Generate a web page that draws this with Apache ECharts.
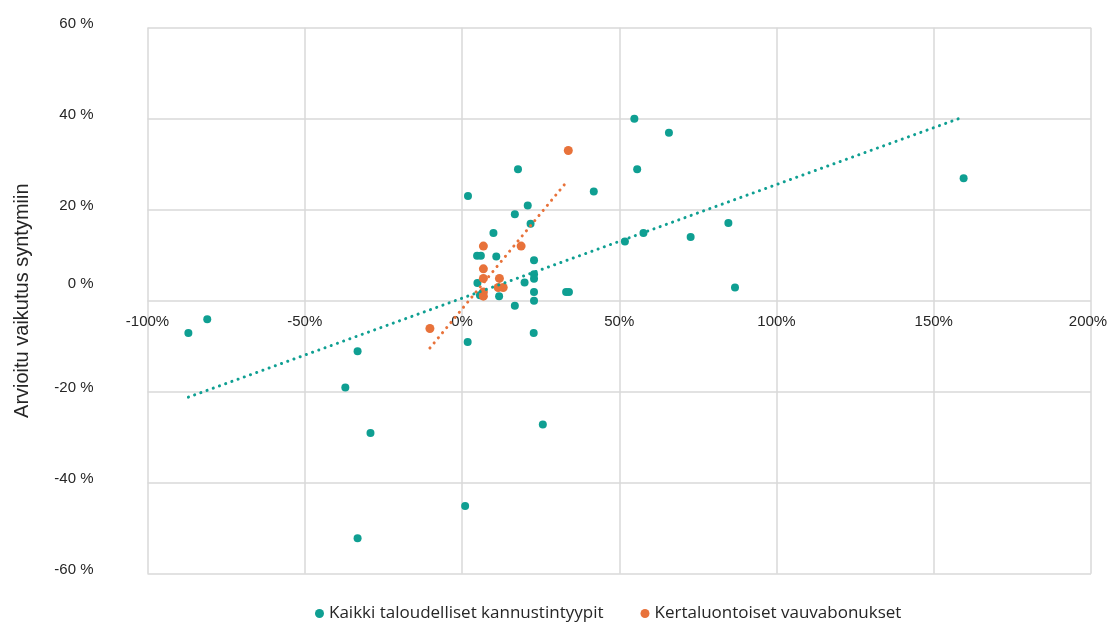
<!DOCTYPE html>
<html>
<head>
<meta charset="utf-8">
<script src="https://cdn.jsdelivr.net/npm/echarts@6/dist/echarts.min.js"></script>
<style>
  html, body { margin: 0; padding: 0; background: #fff; }
  #chart { width: 1108px; height: 622px; }
</style>
</head>
<body>
<div id="chart"></div>
<script>
// Series names
const seriesNames = ['Kaikki taloudelliset kannustintyypit', 'Kertaluontoiset vauvabonukset'];

// Kaikki taloudelliset kannustintyypit: [vaikutus (%), arvioitu vaikutus syntymiin (%)]
const allIncentives = [
  [-87.0, -7.1], [-81.0, -4.1], [-33.2, -11.1], [-37.1, -19.1], [-29.1, -29.1],
  [-33.2, -52.2], [1.8, -9.1], [22.8, -7.1], [25.7, -27.2], [1.0, -45.1],
  [54.8, 40.0], [65.8, 36.9], [17.8, 28.9], [55.7, 28.9], [41.9, 24.0],
  [1.9, 23.0], [20.9, 20.9], [16.8, 19.0], [21.8, 16.9], [84.7, 17.1],
  [57.7, 14.9], [72.7, 14.0], [51.8, 13.0], [10.0, 14.9], [4.8, 9.9],
  [6.0, 9.9], [10.9, 9.7], [22.9, 8.9], [22.9, 5.8], [22.9, 4.8],
  [19.9, 4.0], [4.9, 3.9], [22.9, 1.9], [33.1, 1.9], [34.0, 1.9],
  [22.9, 0.0], [16.8, -1.1], [86.8, 2.9], [159.5, 26.9], [5.7, 1.2],
  [11.8, 1.0]
];

// Kertaluontoiset vauvabonukset
const babyBonuses = [
  [-10.2, -6.1], [33.8, 33.0], [18.8, 12.0], [6.8, 12.0], [6.8, 7.0],
  [6.8, 4.9], [11.9, 4.9], [11.5, 2.9], [13.1, 2.9], [6.8, 1.9], [6.8, 1.0]
];

// Linear trend lines (end points)
const trendAll = [[-87.0, -21.2], [159.5, 40.4]];
const trendBonus = [[-10.2, -10.4], [33.5, 26.3]];

// Axis ranges and steps
const xRange = { min: -100, max: 200, step: 50 };
const yRange = { min: -60, max: 60, step: 20 };

const TEAL = '#0f9f92';
const ORANGE = '#e8723a';
const GRID = '#d9d9d9';
const TEXT = '#262626';
const FONT = '"Liberation Sans", Arial, sans-serif';

// Plot box
const gridBox = { left: 147.5, right: 17, top: 27.7, bottom: 48.3 };
const chartH = 622;
const plotH = chartH - gridBox.top - gridBox.bottom;
// Horizontal axis sits on y = 0: shift it up from the bottom edge
const xAxisOffset = -plotH * (0 - yRange.min) / (yRange.max - yRange.min);

const chart = echarts.init(document.getElementById('chart'), null, { renderer: 'canvas' });

chart.setOption({
  animation: false,
  backgroundColor: '#ffffff',
  grid: Object.assign({ containLabel: false, outerBoundsMode: 'none' }, gridBox),
  legend: {
    data: seriesNames,
    left: 310,
    top: 600,
    itemWidth: 9,
    itemHeight: 9,
    itemGap: 37,
    icon: 'circle',
    textStyle: { fontFamily: '"Open Sans", sans-serif', fontSize: 17, color: TEXT }
  },
  xAxis: {
    type: 'value',
    position: 'bottom',
    offset: xAxisOffset,
    min: xRange.min, max: xRange.max, interval: xRange.step,
    axisLine: { show: false, onZero: false },
    axisTick: { show: false },
    axisLabel: {
      margin: 14,
      fontFamily: FONT, fontSize: 15, color: TEXT,
      // last label nudged inward so it stays inside the canvas
      formatter: v => (v === xRange.max ? '{e|' + v + '%}' : v + '%'),
      rich: {
        e: { fontFamily: FONT, fontSize: 15, color: TEXT, padding: [0, 6, 0, 0] }
      }
    },
    splitLine: { show: true, lineStyle: { color: GRID, width: 1.5 } }
  },
  yAxis: {
    type: 'value',
    min: yRange.min, max: yRange.max, interval: yRange.step,
    name: 'Arvioitu vaikutus syntymiin',
    nameLocation: 'middle',
    nameGap: 115,
    nameRotate: 90,
    nameTextStyle: { fontFamily: FONT, fontSize: 20, color: TEXT },
    axisLine: { show: false, onZero: false },
    axisTick: { show: false },
    axisLabel: {
      margin: 54,
      align: 'right',
      fontFamily: FONT, fontSize: 15, color: TEXT,
      formatter: v => (v === 0 ? '{z|0 %}' : '{n|' + v + ' %}'),
      rich: {
        n: { fontFamily: FONT, fontSize: 15, color: TEXT, padding: [0, 0, 7, 0] },
        z: { fontFamily: FONT, fontSize: 15, color: TEXT, padding: [0, 0, 34, 0] }
      }
    },
    splitLine: { show: true, lineStyle: { color: GRID, width: 1.5 } }
  },
  series: [
    {
      name: seriesNames[0],
      type: 'scatter',
      data: allIncentives,
      symbolSize: 8,
      itemStyle: { color: TEAL, opacity: 1 },
      z: 2
    },
    {
      name: seriesNames[1],
      type: 'scatter',
      data: babyBonuses,
      symbolSize: 9,
      itemStyle: { color: ORANGE, opacity: 1 },
      z: 3
    },
    {
      name: 'trend-all',
      type: 'line',
      data: trendAll,
      symbol: 'none',
      silent: true,
      lineStyle: { color: TEAL, width: 3, type: [0.1, 6.5], cap: 'round' },
      z: 4
    },
    {
      name: 'trend-bonus',
      type: 'line',
      data: trendBonus,
      symbol: 'none',
      silent: true,
      lineStyle: { color: ORANGE, width: 3, type: [0.1, 6.5], cap: 'round' },
      z: 4
    }
  ]
});
</script>
</body>
</html>
